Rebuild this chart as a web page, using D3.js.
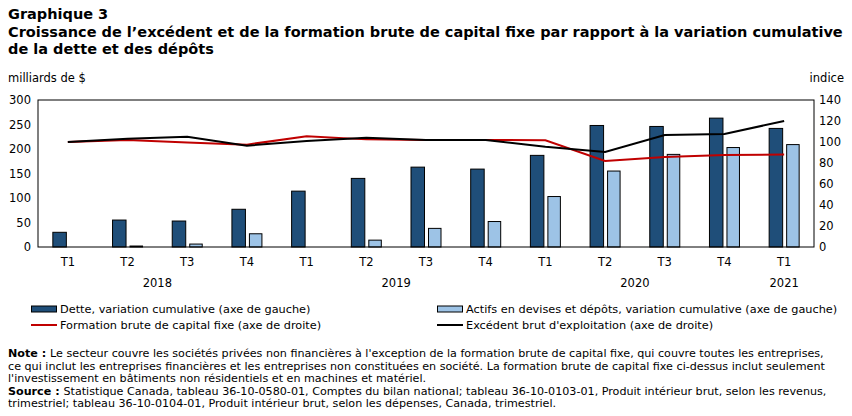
<!DOCTYPE html>
<html>
<head>
<meta charset="utf-8">
<script src="https://cdn.jsdelivr.net/npm/d3@7"></script>
<style>
  body { margin: 0; background: #fff; }
  svg { font-family: "DejaVu Sans", Verdana, sans-serif; }
</style>
</head>
<body>
<svg id="chart" width="852" height="416"></svg>
<script>
// data
const quarters = ["T1", "T2", "T3", "T4", "T1", "T2", "T3", "T4", "T1", "T2", "T3", "T4", "T1"];
const years = [
  { label: "2018", from: 0, to: 3 },
  { label: "2019", from: 4, to: 7 },
  { label: "2020", from: 8, to: 11 },
  { label: "2021", from: 12, to: 12 }
];
const dette = [30, 55, 53, 77, 114, 140, 163, 159, 187, 248, 246, 263, 242];
const actifs = [0, 2, 6, 27, 0, 14, 38, 52, 103, 155, 189, 203, 209];
const fbcf = [100, 102, 99.5, 97.5, 105.5, 102.5, 102, 102, 101.6, 82, 85.7, 87.6, 88];
const excedent = [100, 103, 105, 96.5, 101, 104, 102, 102, 95.5, 90.5, 106.7, 107.6, 120];
const leftTicks = [0, 50, 100, 150, 200, 250, 300];
const rightTicks = [0, 20, 40, 60, 80, 100, 120, 140];

const svg = d3.select("#chart");
const m = { left: 38, right: 814, top: 100, bottom: 247 };

// title
const title = svg.append("g").attr("font-weight", "bold").attr("font-size", 14.5);
title.append("text").attr("x", 8).attr("y", 19).text("Graphique 3");
title.append("text").attr("x", 8).attr("y", 37)
  .text("Croissance de l\u2019excédent et de la formation brute de capital fixe par rapport à la variation cumulative");
title.append("text").attr("x", 8).attr("y", 54).text("de la dette et des dépôts");

const x = d3.scaleBand().domain(d3.range(quarters.length)).range([m.left, m.right]);
const yL = d3.scaleLinear().domain([0, 300]).range([m.bottom, m.top]);
const yR = d3.scaleLinear().domain([0, 140]).range([m.bottom, m.top]);

svg.append("text").attr("x", 8).attr("y", 82).attr("font-size", 11.5).text("milliards de $");
svg.append("text").attr("x", 844).attr("y", 82).attr("font-size", 11.5)
  .attr("text-anchor", "end").text("indice");

// axes
const axL = svg.append("g").attr("transform", `translate(${m.left},0)`)
  .call(d3.axisLeft(yL).tickValues(leftTicks).tickSize(0).tickPadding(7));
const axR = svg.append("g").attr("transform", `translate(${m.right},0)`)
  .call(d3.axisRight(yR).tickValues(rightTicks).tickSize(0).tickPadding(5));
[axL, axR].forEach(a => {
  a.select(".domain").remove();
  a.selectAll("text").attr("font-size", 11.5).attr("font-family", "DejaVu Sans, Verdana, sans-serif").attr("fill", "#000");
});

// bars
const bw = 13.5;
const cx = i => x(i) + x.bandwidth() / 2;
svg.append("g").selectAll("rect").data(dette.map((v, i) => ({ v, i }))).join("rect")
  .attr("x", d => cx(d.i) - 1.5 - bw)
  .attr("y", d => yL(d.v))
  .attr("width", bw)
  .attr("height", d => yL(0) - yL(d.v))
  .attr("fill", "#1f4e79").attr("stroke", "#000").attr("stroke-width", 1);
svg.append("g").selectAll("rect").data(actifs.map((v, i) => ({ v, i })).filter(d => d.v > 0)).join("rect")
  .attr("x", d => cx(d.i) + 2.5)
  .attr("y", d => yL(d.v))
  .attr("width", bw - 1)
  .attr("height", d => yL(0) - yL(d.v))
  .attr("fill", "#9dc3e6").attr("stroke", "#000").attr("stroke-width", 1);

// lines
const line = d3.line().x((d, i) => cx(i)).y(d => yR(d));
svg.append("path").datum(fbcf).attr("d", line)
  .attr("fill", "none").attr("stroke", "#c00000").attr("stroke-width", 2);
svg.append("path").datum(excedent).attr("d", line)
  .attr("fill", "none").attr("stroke", "#000").attr("stroke-width", 2);

// frame
svg.append("rect").attr("x", m.left).attr("y", m.top)
  .attr("width", m.right - m.left).attr("height", m.bottom - m.top)
  .attr("fill", "none").attr("stroke", "#000").attr("stroke-width", 1);

// x labels
svg.append("g").selectAll("text").data(quarters).join("text")
  .attr("x", (d, i) => cx(i))
  .attr("y", 266).attr("text-anchor", "middle").attr("font-size", 11.5)
  .text(d => d);
svg.append("g").selectAll("text").data(years).join("text")
  .attr("x", d => (x(d.from) + x(d.to) + x.bandwidth()) / 2)
  .attr("y", 287).attr("text-anchor", "middle").attr("font-size", 11.5)
  .text(d => d.label);

// legend
const legend = [
  { label: "Dette, variation cumulative (axe de gauche)", type: "bar", color: "#1f4e79", x: 31, y: 309 },
  { label: "Actifs en devises et dépôts, variation cumulative (axe de gauche)", type: "bar", color: "#9dc3e6", x: 437, y: 309 },
  { label: "Formation brute de capital fixe (axe de droite)", type: "line", color: "#c00000", x: 31, y: 325 },
  { label: "Excédent brut d'exploitation (axe de droite)", type: "line", color: "#000", x: 437, y: 325 }
];
const lg = svg.append("g").selectAll("g").data(legend).join("g")
  .attr("transform", d => `translate(${d.x},${d.y})`);
lg.filter(d => d.type === "bar").append("rect")
  .attr("x", 0.5).attr("y", -3).attr("width", 25).attr("height", 6)
  .attr("fill", d => d.color).attr("stroke", "#000");
lg.filter(d => d.type === "line").append("line")
  .attr("x1", 0).attr("x2", 26).attr("y1", 0).attr("y2", 0)
  .attr("stroke", d => d.color).attr("stroke-width", 2);
lg.append("text").attr("x", 29).attr("y", 4).attr("font-size", 11.3).text(d => d.label);

// notes
const notes = [
  [["Note : ", true], ["Le secteur couvre les sociétés privées non financières à l'exception de la formation brute de capital fixe, qui couvre toutes les entreprises,", false]],
  [["ce qui inclut les entreprises financières et les entreprises non constituées en société. La formation brute de capital fixe ci-dessus inclut seulement", false]],
  [["l'investissement en bâtiments non résidentiels et en machines et matériel.", false]],
  [["Source : ", true], ["Statistique Canada, tableau 36-10-0580-01, Comptes du bilan national; tableau 36-10-0103-01, Produit intérieur brut, selon les revenus,", false]],
  [["trimestriel; tableau 36-10-0104-01, Produit intérieur brut, selon les dépenses, Canada, trimestriel.", false]]
];
const nt = svg.append("g").attr("font-size", 11.15);
notes.forEach((parts, i) => {
  const t = nt.append("text").attr("x", 8).attr("y", 357 + i * 12.5);
  parts.forEach(p => t.append("tspan").attr("font-weight", p[1] ? "bold" : null).text(p[0]));
});
</script>
</body>
</html>
